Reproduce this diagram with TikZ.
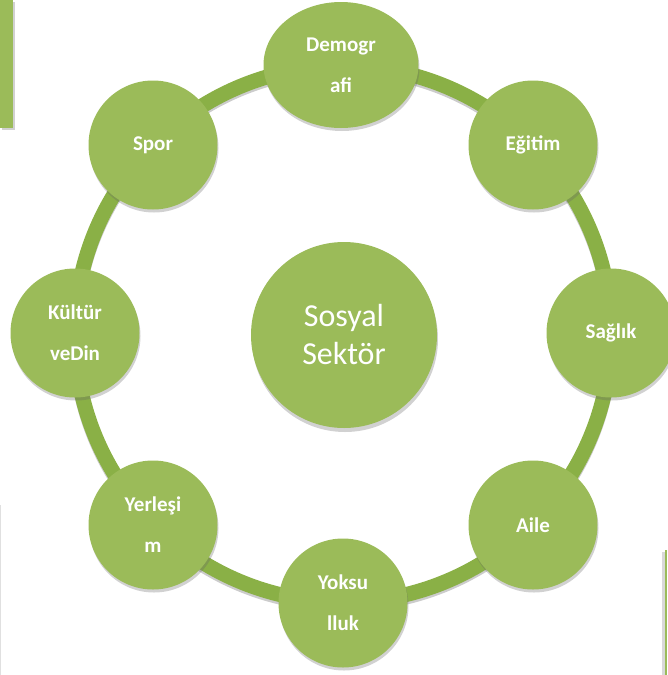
\documentclass[tikz,border=0pt]{standalone}
\usepackage{fontspec}
\setmainfont{Carlito}
\usepackage{xcolor}
\usepackage{tikz}
\usetikzlibrary{shapes.geometric,shadows,calc}

\definecolor{olive}{RGB}{155,187,89}
\definecolor{ringgreen}{RGB}{138,176,70}

\begin{document}
\begin{tikzpicture}[x=1pt, y=-1pt,
		sat/.style={circle, fill=olive, minimum size=129pt, inner sep=0pt, text=white, align=center,
			font=\bfseries\fontsize{21}{41}\selectfont,
			drop shadow={shadow xshift=1pt, shadow yshift=-3pt, opacity=0.3, fill=black!60}},
		hub/.style={circle, fill=olive, minimum size=186pt, inner sep=0pt, text=white, align=center,
			font=\fontsize{32}{38}\selectfont,
			drop shadow={shadow xshift=1pt, shadow yshift=-4pt, opacity=0.3, fill=black!60}}]
			\useasboundingbox (0, 0) rectangle (667, 675);
			
			% side boxes
			\fill[black!12] (0, 505) rectangle (1, 675);
			\fill[black!15] (662, 552) rectangle (665, 675);
			\fill[olive] (665, 550) rectangle (667, 675);
			\fill[olive, drop shadow={shadow xshift=2pt, shadow yshift=-2pt, opacity=0.3, fill=black!60}] (0, 0) rectangle (13, 128);
			
			% ring
			\coordinate (C) at (343, 334);
			\draw[black!40, opacity=0.5, line width=14pt] ($(C)+(0,3)$) circle (268pt);
			\draw[ringgreen, line width=15pt] (C) circle (268pt);
			
			\node[hub] (S) at (344, 335) {Sosyal\\Sektör};
			
			\node[sat, ellipse, minimum width=155pt, minimum height=126pt] (D) at (341, 65) {Demogr\\afi};
			\node[sat] (E) at (533, 145) {Eğitim};
			\node[sat] (H) at (611, 333) {Sağlık};
			\node[sat] (A) at (533, 525) {Aile};
			\node[sat] (Y) at (343, 603) {Yoksu\\lluk};
			\node[sat] (R) at (153, 525) {Yerleşi\\m};
			\node[sat] (K) at (75, 333) {Kültür\\veDin};
			\node[sat] (P) at (153, 145) {Spor};
		\end{tikzpicture}
\end{document}
